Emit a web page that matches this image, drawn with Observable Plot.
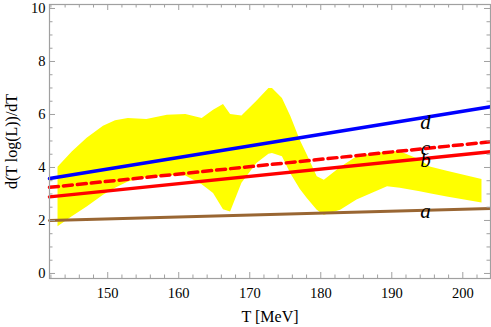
<!DOCTYPE html>
<html>
<head>
<meta charset="utf-8">
<script src="https://cdn.jsdelivr.net/npm/d3@7"></script>
<script src="https://cdn.jsdelivr.net/npm/@observablehq/plot@0.6"></script>
<style>
  html, body { margin: 0; padding: 0; background: #fff; }
  svg text { font-family: "Liberation Serif", "Times New Roman", serif; }
</style>
</head>
<body>
<div id="chart"></div>
<script>
// ---- data ----
const bandT  = [143.0, 145.0, 147.1, 149.4, 151.1, 152.9, 155.5, 158.4, 161.0, 163.3, 164.9, 166.3, 167.3, 168.9, 171.0, 172.7, 173.2, 174.6, 175.8, 177.1, 178.1, 179.5, 180.5, 182.8, 185.1, 189.4, 191.2, 194.0, 195.4, 197.8, 202.7];
const bandHi = [4.01, 4.58, 5.10, 5.56, 5.76, 5.85, 5.81, 5.97, 6.00, 5.85, 6.16, 6.38, 6.00, 5.94, 6.50, 6.98, 6.98, 6.60, 5.91, 5.03, 4.47, 3.65, 3.52, 4.00, 4.40, 4.59, 4.59, 4.28, 4.02, 3.86, 3.55];
const bandLo = [1.76, 2.14, 2.51, 2.95, 3.22, 3.45, 3.62, 3.70, 3.68, 3.35, 3.02, 2.40, 2.32, 3.40, 4.15, 4.50, 4.53, 4.40, 3.75, 3.18, 2.83, 2.39, 2.20, 2.39, 2.77, 3.27, 3.22, 3.08, 3.01, 2.89, 2.66];

const lineT = [141.8, 203.9];
const lineA = [2.00, 2.45];
const lineB = [2.89, 4.59];
const lineC = [3.25, 4.97];
const lineD = [3.58, 6.29];

const labelNames = ["a", "b", "c", "d"];
const labelT = [194.75, 194.75, 194.75, 194.75];
const labelV = [2.35, 4.26, 4.73, 5.71];

const xTickLabels = [150, 160, 170, 180, 190, 200];
const xMinor = d3.range(142, 204, 2);
const yTickLabels = [0, 2, 4, 6, 8, 10];
const yMinor = d3.range(0, 10.01, 0.5);

const xLabel = "T [MeV]";
const yLabel = "d(T log(L))/dT";

// ---- build ----
const W = 491, H = 327;
const mL = 49, mR = 1, mT = 4, mB = 49;
const innerH = H - mT - mB, innerW = W - mL - mR;
const band = bandT.map((t, i) => ({T: t, lo: bandLo[i], hi: bandHi[i]}));
const mk = (arr) => lineT.map((t, i) => ({T: t, v: arr[i]}));
const labels = labelNames.map((n, i) => ({name: n, T: labelT[i], v: labelV[i]}));
const gray = "#a0a0a0";
const serif = "Liberation Serif, Times New Roman, serif";

const chart = Plot.plot({
  width: W, height: H,
  marginLeft: mL, marginRight: mR, marginTop: mT, marginBottom: mB,
  style: {fontFamily: serif, fontSize: "14.5px", background: "#fff", color: "#000"},
  x: {domain: [141.8, 203.9]},
  y: {domain: [-0.19, 10.15]},
  marks: [
    Plot.areaY(band, {x: "T", y1: "lo", y2: "hi", fill: "#ffff00", curve: "linear"}),
    Plot.line(mk(lineA), {x: "T", y: "v", stroke: "#996633", strokeWidth: 3}),
    Plot.line(mk(lineD), {x: "T", y: "v", stroke: "#0000ff", strokeWidth: 3.5}),
    Plot.line(mk(lineC), {x: "T", y: "v", stroke: "#ff0000", strokeWidth: 3.5, strokeDasharray: "9,5"}),
    Plot.line(mk(lineB), {x: "T", y: "v", stroke: "#ff0000", strokeWidth: 3.5}),
    Plot.text(labels, {x: "T", y: "v", text: "name", fontFamily: serif, fontStyle: "italic", fontSize: 21, textAnchor: "middle", lineAnchor: "middle", fill: "#000"}),
    // ticks (inward, all four sides)
    Plot.tickX(xTickLabels, {x: d => d, insetTop: innerH - 6, stroke: gray}),
    Plot.tickX(xMinor.filter(d => d % 10 !== 0), {x: d => d, insetTop: innerH - 3.5, stroke: gray}),
    Plot.tickX(xTickLabels, {x: d => d, insetBottom: innerH - 6, stroke: gray}),
    Plot.tickX(xMinor.filter(d => d % 10 !== 0), {x: d => d, insetBottom: innerH - 3.5, stroke: gray}),
    Plot.tickY(yTickLabels, {y: d => d, insetRight: innerW - 6, stroke: gray}),
    Plot.tickY(yMinor.filter(d => d % 2 !== 0), {y: d => d, insetRight: innerW - 3.5, stroke: gray}),
    Plot.tickY(yTickLabels, {y: d => d, insetLeft: innerW - 6, stroke: gray}),
    Plot.tickY(yMinor.filter(d => d % 2 !== 0), {y: d => d, insetLeft: innerW - 3.5, stroke: gray}),
    Plot.frame({stroke: gray, strokeWidth: 1.2}),
    Plot.axisX({ticks: xTickLabels, tickSize: 0, tickPadding: 9, label: null, fontSize: 14.5, fontFamily: serif}),
    Plot.axisY({ticks: yTickLabels, tickSize: 0, tickPadding: 4, label: null, fontSize: 14.5, fontFamily: serif}),
    Plot.text([xLabel], {frameAnchor: "bottom", dy: 38.5, text: d => d, fontFamily: serif, fontSize: 16, textAnchor: "middle", lineAnchor: "middle", fill: "#000"}),
    Plot.text([yLabel], {frameAnchor: "left", dx: -38, text: d => d, fontFamily: serif, rotate: -90, fontSize: 16, textAnchor: "middle", lineAnchor: "middle", fill: "#000"})
  ]
});
document.getElementById("chart").appendChild(chart);
</script>
</body>
</html>
